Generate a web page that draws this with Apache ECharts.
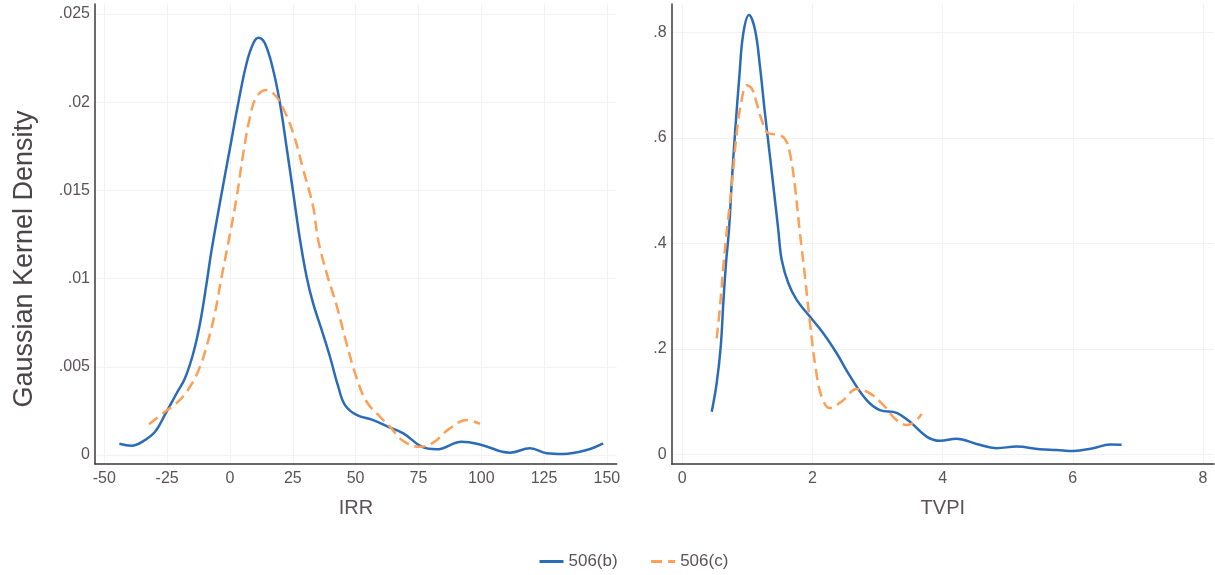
<!DOCTYPE html>
<html>
<head>
<meta charset="utf-8">
<script src="https://cdn.jsdelivr.net/npm/echarts@6/dist/echarts.min.js"></script>
<style>
html,body{margin:0;padding:0;background:#fff;}
#chart{width:1215px;height:575px;}
</style>
</head>
<body>
<div id="chart"></div>
<script>
// ---- Data ----
var seriesNames = ['506(b)', '506(c)'];

// IRR panel: [IRR, density]
var irrB = [[-44.0,0.00064],[-39.1,0.00053],[-34.5,0.00079],[-29.8,0.00132],[-25.9,0.00227],[-21.2,0.0035],[-17.9,0.00435],[-14.6,0.00577],[-11.9,0.00747],[-9.3,0.00973],[-7.3,0.01162],[-3.3,0.01484],[0,0.01739],[3.3,0.01994],[6.6,0.0222],[9.3,0.02334],[11.3,0.02366],[13.9,0.02334],[17.2,0.02183],[19.9,0.01994],[22.6,0.01739],[25.2,0.01484],[27.9,0.01219],[30.5,0.01011],[33.1,0.0086],[36.5,0.00709],[39.8,0.00557],[43.1,0.00387],[45.8,0.00283],[50.4,0.00227],[57.0,0.00198],[63.0,0.0016],[69.0,0.00123],[76.3,0.00047],[82.2,0.00032],[92.2,0.00075],[100.1,0.00057],[111.4,0.00013],[119.4,0.00038],[126.0,0.0001],[132.6,0.00006],[141.9,0.00028],[148.5,0.00066]];
var irrC = [[-32.2,0.00174],[-25.9,0.00245],[-20.6,0.00302],[-15.9,0.00387],[-11.9,0.00501],[-8.6,0.00652],[-6.0,0.00803],[-3.3,0.01011],[-0.7,0.012],[2.7,0.01464],[5.3,0.0171],[8.0,0.01918],[10.6,0.02031],[14.6,0.02069],[17.9,0.02041],[21.2,0.01965],[25.2,0.01824],[29.2,0.01616],[33.1,0.01408],[35.1,0.01219],[38.5,0.0103],[42.5,0.00845],[46.4,0.00633],[50.4,0.00437],[54.4,0.00302],[59.7,0.00217],[63.7,0.0016],[69.0,0.00079],[75.6,0.00047],[80.9,0.0007],[87.5,0.00151],[94.2,0.00198],[99.5,0.00176]];

// TVPI panel: [TVPI, density]
var tvpiB = [[0.452,0.081],[0.528,0.135],[0.590,0.204],[0.630,0.287],[0.671,0.362],[0.717,0.426],[0.759,0.514],[0.810,0.609],[0.876,0.716],[0.937,0.798],[1.025,0.833],[1.117,0.805],[1.194,0.735],[1.270,0.647],[1.347,0.565],[1.424,0.482],[1.475,0.426],[1.527,0.369],[1.628,0.325],[1.757,0.293],[1.962,0.261],[2.166,0.230],[2.372,0.192],[2.565,0.151],[2.833,0.103],[3.037,0.084],[3.293,0.079],[3.498,0.062],[3.754,0.034],[3.959,0.026],[4.215,0.030],[4.522,0.020],[4.829,0.012],[5.137,0.015],[5.495,0.010],[5.751,0.0085],[6.006,0.0066],[6.313,0.012],[6.570,0.019],[6.750,0.0186]];
var tvpiC = [[0.528,0.220],[0.579,0.280],[0.630,0.356],[0.691,0.432],[0.759,0.508],[0.836,0.609],[0.912,0.672],[0.989,0.700],[1.066,0.694],[1.143,0.666],[1.220,0.634],[1.321,0.609],[1.475,0.606],[1.578,0.598],[1.654,0.571],[1.731,0.508],[1.808,0.419],[1.885,0.337],[1.962,0.249],[2.054,0.160],[2.141,0.110],[2.269,0.088],[2.473,0.103],[2.679,0.124],[2.883,0.116],[3.088,0.094],[3.293,0.065],[3.447,0.056],[3.574,0.062],[3.677,0.077]];

// Tick values and labels
var irrXTicks = [-50, -25, 0, 25, 50, 75, 100, 125, 150];
var irrYTicks = [0, 0.005, 0.01, 0.015, 0.02, 0.025];
var irrYLabels = ['0', '.005', '.01', '.015', '.02', '.025'];
var tvpiXTicks = [0, 2, 4, 6, 8];
var tvpiYTicks = [0, 0.2, 0.4, 0.6, 0.8];
var tvpiYLabels = ['0', '.2', '.4', '.6', '.8'];

var axisNames = { irr: 'IRR', tvpi: 'TVPI', density: 'Gaussian Kernel Density' };

// ---- Styles ----
var FONT = '"Liberation Sans", Arial, sans-serif';
var TXT = '#5a5358';
var BLUE = '#2b6cb8';
var ORANGE = '#fd9f57';
var AXIS = '#3a3a3a';
var GRID = '#f2f2f2';

function labelFrom(ticks, labels) {
  return function (v) {
    for (var i = 0; i < ticks.length; i++) {
      if (Math.abs(ticks[i] - v) < 1e-9) return labels[i];
    }
    return '';
  };
}

function xAxisCfg(idx, min, max, ticks, name) {
  return {
    type: 'value', gridIndex: idx, min: min, max: max,
    name: name, nameLocation: 'middle', nameGap: 34,
    nameTextStyle: { fontFamily: FONT, fontSize: 20, color: TXT },
    axisLine: { show: true, onZero: false, lineStyle: { color: AXIS, width: 1.5 } },
    axisTick: { show: false, customValues: ticks },
    axisLabel: { customValues: ticks, margin: 7, fontFamily: FONT, fontSize: 16, color: TXT },
    splitLine: { show: true, lineStyle: { color: GRID, width: 1 } }
  };
}
function yAxisCfg(idx, min, max, ticks, labels, name) {
  var c = {
    type: 'value', gridIndex: idx, min: min, max: max,
    axisLine: { show: true, onZero: false, lineStyle: { color: AXIS, width: 1.5 } },
    axisTick: { show: false, customValues: ticks },
    axisLabel: { customValues: ticks, margin: 5, fontFamily: FONT, fontSize: 16, color: TXT,
                 formatter: labelFrom(ticks, labels) },
    splitLine: { show: true, lineStyle: { color: GRID, width: 1 } }
  };
  if (name) {
    c.name = name; c.nameLocation = 'middle'; c.nameGap = 57; c.nameRotate = 90;
    c.nameTextStyle = { fontFamily: FONT, fontSize: 27, color: '#4a4548', padding: [0, 50, 0, 0] };
  }
  return c;
}

var chart = echarts.init(document.getElementById('chart'), null, { renderer: 'canvas' });
var option = {
  animation: false,
  backgroundColor: '#ffffff',
  grid: [
    { left: 95, right: 598.3, top: 4, bottom: 111 },
    { left: 671.7, right: 1, top: 4, bottom: 111 }
  ],
  xAxis: [
    xAxisCfg(0, -53.7, 153.9, irrXTicks, axisNames.irr),
    xAxisCfg(1, -0.163, 8.17, tvpiXTicks, axisNames.tvpi)
  ],
  yAxis: [
    yAxisCfg(0, -0.00051, 0.02557, irrYTicks, irrYLabels, axisNames.density),
    yAxisCfg(1, -0.018, 0.854, tvpiYTicks, tvpiYLabels, null)
  ],
  legend: {
    left: 538, top: 553, padding: 0,
    itemWidth: 24, itemHeight: 14, itemGap: 32,
    itemStyle: { opacity: 0 },
    lineStyle: { width: 3 },
    textStyle: { fontFamily: FONT, fontSize: 17, color: TXT },
    data: seriesNames
  },
  series: [
    { name: seriesNames[0], type: 'line', xAxisIndex: 0, yAxisIndex: 0, data: irrB, smooth: 0.4,
      showSymbol: false, symbol: 'none', lineStyle: { color: BLUE, width: 2.5 }, itemStyle: { color: BLUE } },
    { name: seriesNames[1], type: 'line', xAxisIndex: 0, yAxisIndex: 0, data: irrC, smooth: 0.4,
      showSymbol: false, symbol: 'none', lineStyle: { color: ORANGE, width: 2.5, type: [11, 6] }, itemStyle: { color: ORANGE } },
    { name: seriesNames[0], type: 'line', xAxisIndex: 1, yAxisIndex: 1, data: tvpiB, smooth: 0.4,
      showSymbol: false, symbol: 'none', lineStyle: { color: BLUE, width: 2.5 }, itemStyle: { color: BLUE } },
    { name: seriesNames[1], type: 'line', xAxisIndex: 1, yAxisIndex: 1, data: tvpiC, smooth: 0.4,
      showSymbol: false, symbol: 'none', lineStyle: { color: ORANGE, width: 2.5, type: [11, 6] }, itemStyle: { color: ORANGE } }
  ]
};
chart.setOption(option);
</script>
</body>
</html>
